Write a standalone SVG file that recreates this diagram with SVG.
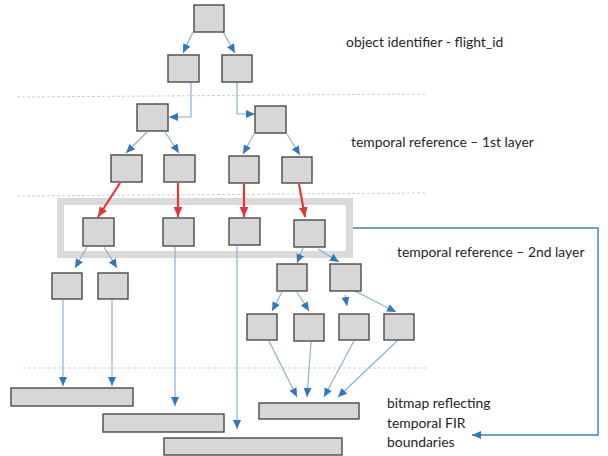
<svg xmlns="http://www.w3.org/2000/svg" width="608" height="456" viewBox="0 0 608 456">
  <style>
    .box { fill: #d8d6d6; stroke: #4a4a4a; stroke-width: 1.4; }
    .sep { fill: none; stroke: #cfcfcf; stroke-width: 1; stroke-dasharray: 3 2; }
    .blue { fill: none; stroke: #8cb0d6; stroke-width: 1.2; }
    .red { fill: none; stroke: #e0383c; stroke-width: 2.2; }
    .lbl { font-family: Lato, "Open Sans", "Liberation Sans", sans-serif; font-size: 13.9px; fill: #262626; }
  </style>
  <defs>
    <marker id="ab" markerUnits="userSpaceOnUse" markerWidth="10" markerHeight="10" viewBox="0 0 10 10" refX="9" refY="5" orient="auto">
      <path d="M0,1 L9,5 L0,9 Z" fill="#2f78bd"/>
    </marker>
    <marker id="ar" markerUnits="userSpaceOnUse" markerWidth="11" markerHeight="11" viewBox="0 0 10 10" refX="9" refY="5" orient="auto">
      <path d="M0,1 L9,5 L0,9 Z" fill="#e0383c"/>
    </marker>
  </defs>

  <!-- layer separators -->
  <g id="separators">
    <line class="sep" x1="17" y1="97" x2="425" y2="94"/>
    <line class="sep" x1="17" y1="196" x2="426" y2="193"/>
    <line class="sep" x1="23" y1="368" x2="427" y2="368"/>
  </g>

  <!-- frame around the 2nd-layer nodes -->
  <rect id="layer2-frame" x="60.5" y="201.5" width="289" height="53" fill="none" stroke="#dadada" stroke-width="7"/>

  <g id="connectors">
    <!-- object identifier tree -->
    <line class="blue" x1="193" y1="32" x2="183" y2="53" marker-end="url(#ab)"/>
    <line class="blue" x1="223" y1="32" x2="235" y2="53" marker-end="url(#ab)"/>
    <polyline class="blue" points="191,82 191,117 169,117" marker-end="url(#ab)"/>
    <polyline class="blue" points="237,82 237,114 255,114" marker-end="url(#ab)"/>
    <!-- 1st layer -->
    <line class="blue" x1="147" y1="132" x2="126" y2="153" marker-end="url(#ab)"/>
    <line class="blue" x1="165" y1="132" x2="179" y2="153" marker-end="url(#ab)"/>
    <line class="blue" x1="254" y1="134" x2="243" y2="154" marker-end="url(#ab)"/>
    <line class="blue" x1="287" y1="134" x2="300" y2="155" marker-end="url(#ab)"/>
    <!-- into 2nd layer -->
    <line class="red" x1="120" y1="183" x2="98" y2="217" marker-end="url(#ar)"/>
    <line class="red" x1="178" y1="183" x2="178" y2="217" marker-end="url(#ar)"/>
    <line class="red" x1="244" y1="184" x2="244" y2="217" marker-end="url(#ar)"/>
    <line class="red" x1="299" y1="184" x2="305" y2="217" marker-end="url(#ar)"/>
    <!-- 2nd layer -->
    <line class="blue" x1="87" y1="247" x2="75" y2="268" marker-end="url(#ab)"/>
    <line class="blue" x1="104" y1="247" x2="117" y2="268" marker-end="url(#ab)"/>
    <line class="blue" x1="303" y1="248" x2="297" y2="263" marker-end="url(#ab)"/>
    <line class="blue" x1="318" y1="249" x2="339" y2="262" marker-end="url(#ab)"/>
    <line class="blue" x1="282" y1="292" x2="272" y2="311" marker-end="url(#ab)"/>
    <line class="blue" x1="297" y1="292" x2="309" y2="311" marker-end="url(#ab)"/>
    <line class="blue" x1="345" y1="295" x2="347" y2="306" marker-end="url(#ab)"/>
    <line class="blue" x1="355" y1="291" x2="396" y2="312" marker-end="url(#ab)"/>
    <!-- down to bitmaps -->
    <line class="blue" x1="63" y1="300" x2="63" y2="386" marker-end="url(#ab)"/>
    <line class="blue" x1="112" y1="300" x2="112" y2="386" marker-end="url(#ab)"/>
    <line class="blue" x1="175" y1="247" x2="175" y2="406" marker-end="url(#ab)"/>
    <line class="blue" x1="237" y1="246" x2="237" y2="429" marker-end="url(#ab)"/>
    <line class="blue" x1="269" y1="341" x2="297" y2="397" marker-end="url(#ab)"/>
    <line class="blue" x1="311" y1="342" x2="307" y2="397" marker-end="url(#ab)"/>
    <line class="blue" x1="354" y1="341" x2="324" y2="397" marker-end="url(#ab)"/>
    <line class="blue" x1="397" y1="341" x2="338" y2="397" marker-end="url(#ab)"/>
    <!-- frame to bitmap label -->
    <polyline points="353,228 598,228 598,435 472,435" fill="none" stroke="#3a82c4" stroke-width="1.4" marker-end="url(#ab)"/>
  </g>

  <!-- object identifier -->
  <g id="n-root"><rect class="box" x="194" y="5" width="30" height="27"/></g>
  <g id="n-id-a"><rect class="box" x="168" y="55" width="31" height="27"/></g>
  <g id="n-id-b"><rect class="box" x="222" y="55" width="30" height="27"/></g>

  <!-- temporal reference, 1st layer -->
  <g id="n-t1-a"><rect class="box" x="137" y="104" width="31" height="27"/></g>
  <g id="n-t1-b"><rect class="box" x="255" y="106" width="31" height="27"/></g>
  <g id="n-t1-a1"><rect class="box" x="111" y="155" width="31" height="27"/></g>
  <g id="n-t1-a2"><rect class="box" x="164" y="155" width="31" height="27"/></g>
  <g id="n-t1-b1"><rect class="box" x="229" y="156" width="30" height="27"/></g>
  <g id="n-t1-b2"><rect class="box" x="282" y="157" width="30" height="26"/></g>

  <!-- temporal reference, 2nd layer -->
  <g id="n-t2-a"><rect class="box" x="83" y="218" width="31" height="28"/></g>
  <g id="n-t2-b"><rect class="box" x="163" y="218" width="31" height="28"/></g>
  <g id="n-t2-c"><rect class="box" x="229" y="218" width="31" height="27"/></g>
  <g id="n-t2-d"><rect class="box" x="294" y="220" width="31" height="27"/></g>
  <g id="n-t2-a1"><rect class="box" x="52" y="273" width="30" height="26"/></g>
  <g id="n-t2-a2"><rect class="box" x="98" y="273" width="30" height="26"/></g>
  <g id="n-t2-d1"><rect class="box" x="277" y="264" width="30" height="27"/></g>
  <g id="n-t2-d2"><rect class="box" x="330" y="264" width="31" height="27"/></g>
  <g id="n-t2-d1a"><rect class="box" x="247" y="314" width="30" height="26"/></g>
  <g id="n-t2-d1b"><rect class="box" x="294" y="314" width="30" height="27"/></g>
  <g id="n-t2-d2a"><rect class="box" x="339" y="314" width="30" height="26"/></g>
  <g id="n-t2-d2b"><rect class="box" x="384" y="314" width="30" height="26"/></g>

  <!-- bitmaps -->
  <g id="n-bitmap-1"><rect class="box" x="11" y="388" width="122" height="18"/></g>
  <g id="n-bitmap-2"><rect class="box" x="103" y="414" width="121" height="18"/></g>
  <g id="n-bitmap-3"><rect class="box" x="164" y="438" width="178" height="17"/></g>
  <g id="n-bitmap-4"><rect class="box" x="259" y="403" width="100" height="16"/></g>

  <!-- labels -->
  <g id="labels">
    <text class="lbl" x="346" y="47">object identifier - flight_id</text>
    <text class="lbl" x="351" y="147">temporal reference – 1st layer</text>
    <text class="lbl" x="397" y="257">temporal reference – 2nd layer</text>
    <text class="lbl" x="387" y="408">bitmap reflecting</text>
    <text class="lbl" x="387" y="428">temporal FIR</text>
    <text class="lbl" x="387" y="447">boundaries</text>
  </g>
</svg>
